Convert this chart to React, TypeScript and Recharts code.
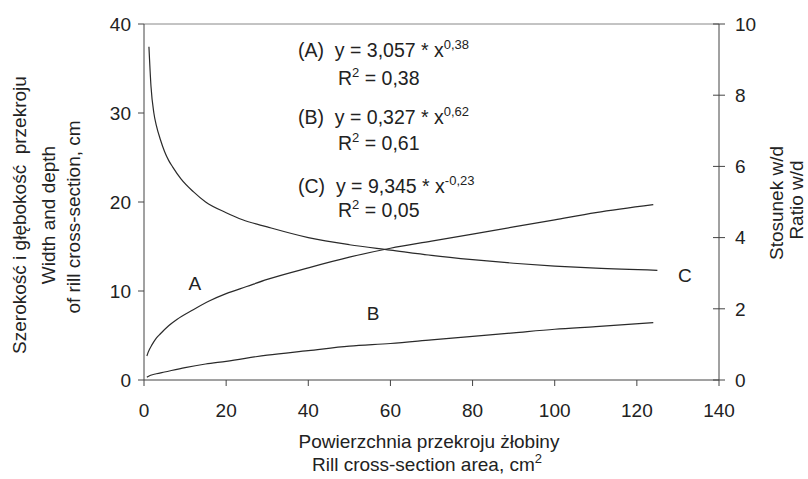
import React from 'react';
import { LineChart, Line, XAxis, YAxis, ReferenceLine, ReferenceDot } from 'recharts';

// Curve A: width of rill cross-section, cm (left axis)
const xA = [0.7, 1, 2, 3, 4, 6, 8, 12, 16, 20, 25, 30, 40, 50, 60, 70, 80, 90, 100, 110, 124];
const widthA = [2.7, 3.1, 4.0, 4.7, 5.2, 6.1, 6.8, 7.9, 8.9, 9.7, 10.5, 11.3, 12.6, 13.8, 14.8, 15.6, 16.4, 17.2, 18.0, 18.8, 19.7];

// Curve B: depth of rill cross-section, cm (left axis)
const xB = [0.7, 1, 3, 5, 10, 15, 20, 30, 40, 50, 60, 70, 80, 90, 100, 110, 124];
const depthB = [0.3, 0.4, 0.7, 0.9, 1.4, 1.8, 2.1, 2.8, 3.3, 3.8, 4.1, 4.5, 4.9, 5.3, 5.7, 6.0, 6.45];

// Curve C: ratio w/d (right axis)
const xC = [1.2, 1.7, 2.4, 3, 4, 5, 6, 7, 9, 12, 15, 20, 24, 30, 40, 50, 60, 70, 80, 90, 100, 110, 125];
const ratioC = [9.36, 8.25, 7.5, 7.15, 6.75, 6.42, 6.17, 5.98, 5.65, 5.29, 5.0, 4.7, 4.5, 4.3, 4.0, 3.8, 3.65, 3.5, 3.38, 3.28, 3.2, 3.14, 3.08];

const X_TICKS = [0, 20, 40, 60, 80, 100, 120, 140];
const LEFT_TICKS = [0, 10, 20, 30, 40];
const RIGHT_TICKS = [0, 2, 4, 6, 8, 10];

const dataA = xA.map((x, i) => ({ x, a: widthA[i] }));
const dataB = xB.map((x, i) => ({ x, b: depthB[i] }));
const dataC = xC.map((x, i) => ({ x, c: ratioC[i] }));

const FONT = '"Liberation Sans", Arial, Helvetica, sans-serif';
const TXT = '#222';
const AX = '#444';
const FS = 19;

const RightTick = (props: any) => {
  const { x, y, payload } = props;
  return (
    <g>
      <line x1={x - 22} x2={x - 10} y1={y} y2={y} stroke={AX} strokeWidth={1} />
      <text x={x} y={y} dy="0.36em" textAnchor="start" fontSize={FS} fontFamily={FONT} fill={TXT}>
        {payload.value}
      </text>
    </g>
  );
};

const supStyle: React.CSSProperties = { fontSize: 13, position: 'relative', top: -8 };

const abs = (left: number, top: number, extra: React.CSSProperties = {}): React.CSSProperties => ({
  position: 'absolute',
  left,
  top,
  whiteSpace: 'nowrap',
  fontFamily: FONT,
  fontSize: FS,
  color: TXT,
  lineHeight: '20px',
  ...extra,
});

const rot = (cx: number, cy: number): React.CSSProperties => ({
  position: 'absolute',
  left: cx,
  top: cy,
  transform: 'translate(-50%, -50%) rotate(-90deg)',
  whiteSpace: 'nowrap',
  fontFamily: FONT,
  fontSize: FS,
  color: TXT,
  lineHeight: '20px',
});

const EQ = 19.5;

export default function App() {
  return (
    <div style={{ position: 'absolute', left: 0, top: 0, width: 808, height: 479, background: '#fff' }}>
      <LineChart width={808} height={479} margin={{ top: 24, right: 0, left: 0, bottom: 69 }}>
        <XAxis
          type="number"
          dataKey="x"
          domain={[0, 140]}
          ticks={X_TICKS}
          allowDuplicatedCategory={false}
          height={30}
          tickSize={6}
          tickMargin={18}
          stroke={AX}
          tick={{ fontSize: FS, fontFamily: FONT, fill: TXT }}
        />
        <YAxis
          yAxisId="left"
          orientation="left"
          domain={[0, 40]}
          ticks={LEFT_TICKS}
          width={144}
          tickSize={6}
          tickMargin={7}
          stroke={AX}
          tick={{ fontSize: FS, fontFamily: FONT, fill: TXT }}
        />
        <YAxis
          yAxisId="right"
          orientation="right"
          domain={[0, 10]}
          ticks={RIGHT_TICKS}
          width={89}
          tickSize={6}
          tickMargin={10}
          tickLine={false}
          stroke={AX}
          tick={<RightTick />}
        />
        <ReferenceLine yAxisId="left" y={40} stroke="#888" strokeWidth={1} />
        <Line
          yAxisId="left"
          data={dataA}
          dataKey="a"
          type="monotone"
          stroke="#2a2a2a"
          strokeWidth={1.2}
          dot={false}
          isAnimationActive={false}
        />
        <Line
          yAxisId="left"
          data={dataB}
          dataKey="b"
          type="monotone"
          stroke="#2a2a2a"
          strokeWidth={1.2}
          dot={false}
          isAnimationActive={false}
        />
        <Line
          yAxisId="right"
          data={dataC}
          dataKey="c"
          type="monotone"
          stroke="#2a2a2a"
          strokeWidth={1.2}
          dot={false}
          isAnimationActive={false}
        />
        <ReferenceDot yAxisId="left" x={12.4} y={10.9} r={0} fill="none" stroke="none"
          label={{ value: 'A', position: 'center', fontSize: FS, fontFamily: FONT, fill: TXT }} />
        <ReferenceDot yAxisId="left" x={55.8} y={7.5} r={0} fill="none" stroke="none"
          label={{ value: 'B', position: 'center', fontSize: FS, fontFamily: FONT, fill: TXT }} />
        <ReferenceDot yAxisId="left" x={131.7} y={11.8} r={0} fill="none" stroke="none" ifOverflow="visible"
          label={{ value: 'C', position: 'center', fontSize: FS, fontFamily: FONT, fill: TXT }} />
      </LineChart>

      {/* equations */}
      <div style={abs(298, 40, { fontSize: EQ })}>(A)&nbsp; y = 3,057 * x<span style={supStyle}>0,38</span></div>
      <div style={abs(338, 68, { fontSize: EQ })}>R<span style={supStyle}>2</span> = 0,38</div>
      <div style={abs(298, 107, { fontSize: EQ })}>(B)&nbsp; y = 0,327 * x<span style={supStyle}>0,62</span></div>
      <div style={abs(338, 133, { fontSize: EQ })}>R<span style={supStyle}>2</span> = 0,61</div>
      <div style={abs(298, 176, { fontSize: EQ })}>(C)&nbsp; y = 9,345 * x<span style={supStyle}>-0,23</span></div>
      <div style={abs(338, 200, { fontSize: EQ })}>R<span style={supStyle}>2</span> = 0,05</div>

      {/* x axis title */}
      <div style={{ ...abs(0, 432), width: 858, textAlign: 'center' }}>Powierzchnia przekroju żłobiny</div>
      <div style={{ ...abs(0, 455), width: 854, textAlign: 'center' }}>
        Rill cross-section area, cm<span style={supStyle}>2</span>
      </div>

      {/* left y title */}
      <div style={rot(20, 215)}>Szerokość i głębokość&nbsp; przekroju</div>
      <div style={rot(49, 215)}>Width and depth</div>
      <div style={rot(74, 217)}>of rill cross-section, cm</div>

      {/* right y title */}
      <div style={rot(777, 203)}>Stosunek w/d</div>
      <div style={rot(797, 200)}>Ratio w/d</div>
    </div>
  );
}
